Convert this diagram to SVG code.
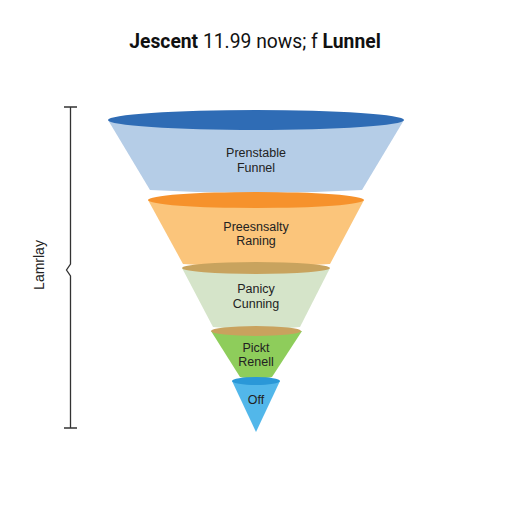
<svg xmlns="http://www.w3.org/2000/svg" width="512" height="512" viewBox="0 0 512 512">
<style>
.t{font-family:"Liberation Sans",Arial,sans-serif;font-size:12.5px;fill:#222;text-anchor:middle}
.ln{stroke:#333;stroke-width:1.3;fill:none}
</style>
<rect width="512" height="512" fill="#fff"/>
<text x="255" y="48" font-family="Roboto,'Liberation Sans',sans-serif" font-size="19.3" text-anchor="middle" fill="#111"><tspan font-weight="bold">Jescent</tspan> 11.99 nows; f <tspan font-weight="bold">Lunnel</tspan></text>
<g id="bracket">
<path class="ln" d="M64 107H77M70.5 107V264L66.5 270L70.5 276V428M64 428H77"/>
<text class="t" transform="translate(44,265) rotate(-90)" style="font-size:14px">Lamrlay</text>
</g>
<g id="layer1">
<path d="M108 120L150 190Q256 196 362 190L404 120Z" fill="#b5cde7"/>
<ellipse cx="256" cy="120" rx="148" ry="10" fill="#2f6cb5"/>
<text class="t" x="256" y="157">Prenstable</text>
<text class="t" x="256" y="172">Funnel</text>
</g>
<g id="layer2">
<path d="M148 200L183 264Q256 270 330 264L364 200Z" fill="#fbc57b"/>
<ellipse cx="256" cy="200" rx="108" ry="8" fill="#f6922c"/>
<text class="t" x="256" y="231">Preesnsalty</text>
<text class="t" x="256" y="245">Raning</text>
</g>
<g id="layer3">
<path d="M182 268L213 327Q256 332 300 327L330 268Z" fill="#d5e4c9"/>
<ellipse cx="256" cy="268" rx="74" ry="6" fill="#c8a35e"/>
<text class="t" x="256" y="293">Panicy</text>
<text class="t" x="256" y="308">Cunning</text>
</g>
<g id="layer4">
<path d="M211 331L240 377Q256 380 272 377L302 331Z" fill="#8ecd5b"/>
<ellipse cx="256" cy="331" rx="45" ry="5" fill="#c9a25e"/>
<text class="t" x="256" y="352">Pickt</text>
<text class="t" x="256" y="366">Renell</text>
</g>
<g id="layer5">
<path d="M232 381L256 432L280 381Z" fill="#52b7ea"/>
<ellipse cx="256" cy="381" rx="24" ry="4" fill="#2a98d8"/>
<text class="t" x="256" y="404">Off</text>
</g>
</svg>
